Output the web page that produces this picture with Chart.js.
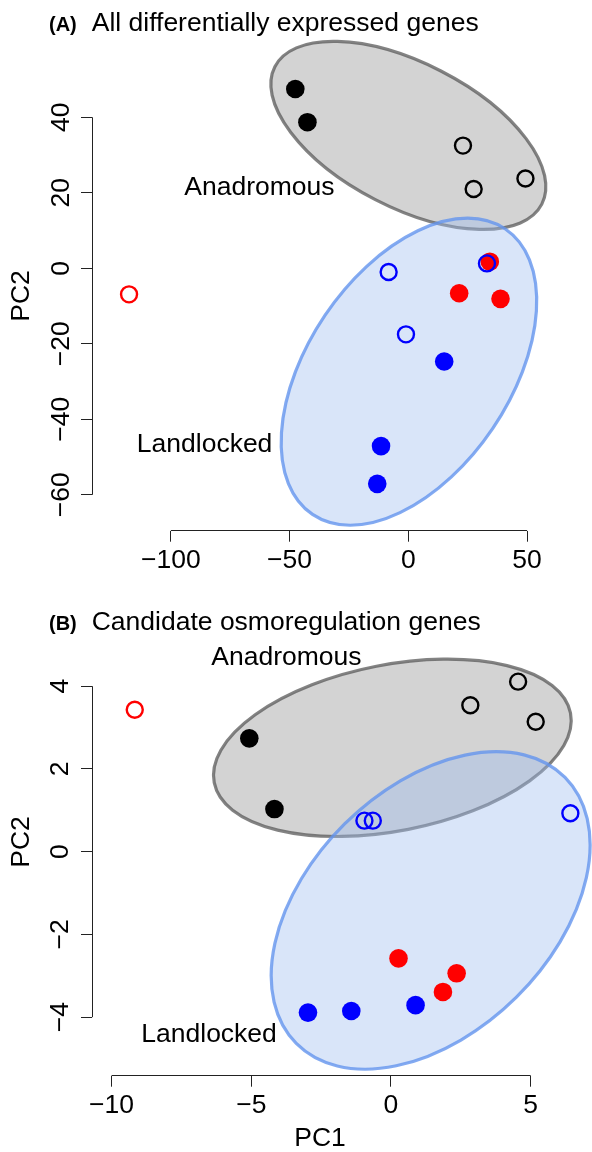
<!DOCTYPE html>
<html>
<head>
<meta charset="utf-8">
<script src="https://cdn.jsdelivr.net/npm/chart.js@4"></script>
<style>
  body { margin: 0; background: #fff; }
  .panel { position: relative; width: 592px; height: 576px; }
</style>
</head>
<body>
<div class="panel"><canvas id="panelA"></canvas></div>
<div class="panel"><canvas id="panelB"></canvas></div>
<script>
// values: [PC1, PC2]
const aAnadSolid = [[-47.6, 47.5], [-42.5, 38.7]];
const aAnadOpen = [[23.0, 32.5], [27.5, 21.0], [49.3, 23.8]];
const aLandOpen = [[-8.3, -1.0], [33.1, 1.3], [-1.0, -17.5]];
const aLandSolid = [[15.1, -24.7], [-11.5, -47.1], [-13.1, -57.1]];
const aRedSolid = [[34.3, 1.75], [21.4, -6.6], [38.8, -8.1]];
const aRedOpen = [[-117.6, -6.9]];

const bAnadSolid = [[-5.07, 2.74], [-4.17, 1.03]];
const bAnadOpen = [[2.84, 3.54], [4.55, 4.11], [5.18, 3.14]];
const bLandOpen = [[-0.95, 0.75], [-0.65, 0.75], [6.42, 0.93]];
const bLandSolid = [[-2.97, -3.89], [-1.42, -3.85], [0.88, -3.71]];
const bRedSolid = [[0.27, -2.58], [2.35, -2.94], [1.86, -3.39]];
const bRedOpen = [[-9.17, 3.43]];

// group ellipses: centre, half-axis vectors (data units)
const aAnadEllipse = { center: [0, 35.2], u: [56.2, -18.2], v: [-13.9, -17.0] };
const aLandEllipse = { center: [0.25, -27.4], u: [40.6, 37.8], v: [35.3, -15.0] };
const bAnadEllipse = { center: [0.05, 2.51], u: [6.375, 0.841], v: [0.571, -1.971] };
const bLandEllipse = { center: [1.42, -1.42], u: [4.81, 3.215], v: [3.071, -2.096] };

// group labels: [text, PC1, PC2]
const aGroupLabels = [['Anadromous', -62.7, 21.4], ['Landlocked', -85.8, -46.7]];
const bGroupLabels = [['Anadromous', -3.74, 4.68], ['Landlocked', -6.51, -4.43]];

const aXTicks = [-100, -50, 0, 50];
const aYTicks = [-60, -40, -20, 0, 20, 40];
const bXTicks = [-10, -5, 0, 5];
const bYTicks = [-4, -2, 0, 2, 4];

const FONT = "'Liberation Sans', Arial, Helvetica, sans-serif";
const FS = 26.5;
const anadStyle = { fill: 'rgba(150,150,150,0.42)', stroke: 'rgba(90,90,90,0.75)' };
const landStyle = { fill: 'rgba(160,190,240,0.4)', stroke: 'rgba(100,149,237,0.8)' };

function minusLabel(v) {
  return v < 0 ? '\u2212' + Math.abs(v) : String(v);
}

function ds(label, pts, color, solid) {
  return {
    label: label,
    data: pts.map(([x, y]) => ({ x, y })),
    pointRadius: solid ? 9.3 : 8,
    pointBorderWidth: solid ? 0 : 2.4,
    pointBackgroundColor: solid ? color : 'rgba(0,0,0,0)',
    pointBorderColor: color,
    clip: false
  };
}

function drawEllipse(ctx, x, y, e, style) {
  const cx = x.getPixelForValue(e.center[0]);
  const cy = y.getPixelForValue(e.center[1]);
  const ux = x.getPixelForValue(e.center[0] + e.u[0]) - cx;
  const uy = y.getPixelForValue(e.center[1] + e.u[1]) - cy;
  const vx = x.getPixelForValue(e.center[0] + e.v[0]) - cx;
  const vy = y.getPixelForValue(e.center[1] + e.v[1]) - cy;
  ctx.save();
  ctx.beginPath();
  ctx.transform(ux, uy, vx, vy, cx, cy);
  ctx.arc(0, 0, 1, 0, Math.PI * 2);
  ctx.restore();
  ctx.save();
  ctx.fillStyle = style.fill;
  ctx.fill();
  ctx.lineWidth = 3.2;
  ctx.strokeStyle = style.stroke;
  ctx.stroke();
  ctx.restore();
}

function panelPlugin(p) {
  let savedArea = null;
  return {
    id: 'panelDecor',
    beforeDatasetsDraw(chart) {
      const { ctx, scales: { x, y } } = chart;
      drawEllipse(ctx, x, y, p.anadEllipse, anadStyle);
      drawEllipse(ctx, x, y, p.landEllipse, landStyle);
      ctx.save();
      ctx.fillStyle = '#000';
      ctx.font = FS + 'px ' + FONT;
      ctx.textAlign = 'center';
      ctx.textBaseline = 'middle';
      p.groupLabels.forEach(([t, gx, gy]) => {
        ctx.fillText(t, x.getPixelForValue(gx), y.getPixelForValue(gy));
      });
      ctx.restore();
      // R draws points past the plot region, so let them show over the whole canvas
      savedArea = chart.chartArea;
      chart.chartArea = Object.assign({}, savedArea, { left: 0, top: 0, right: chart.width, bottom: chart.height });
    },
    afterDatasetsDraw(chart) {
      if (savedArea) chart.chartArea = savedArea;
      savedArea = null;
    },
    afterDraw(chart) {
      const { ctx, chartArea, scales: { x, y } } = chart;
      ctx.save();
      ctx.strokeStyle = '#222';
      ctx.lineWidth = 1;
      ctx.beginPath();
      const by = Math.round(chartArea.bottom - 0.5) + 0.5;
      ctx.moveTo(x.getPixelForValue(p.xTicks[0]), by);
      ctx.lineTo(x.getPixelForValue(p.xTicks[p.xTicks.length - 1]), by);
      const lx = Math.round(chartArea.left - 0.5) + 0.5;
      ctx.moveTo(lx, y.getPixelForValue(p.yTicks[0]));
      ctx.lineTo(lx, y.getPixelForValue(p.yTicks[p.yTicks.length - 1]));
      ctx.stroke();
      // panel title
      ctx.fillStyle = '#000';
      ctx.textBaseline = 'alphabetic';
      ctx.textAlign = 'left';
      ctx.font = 'bold 20px ' + FONT;
      ctx.fillText(p.tag, 49, p.titleY);
      ctx.font = FS + 'px ' + FONT;
      ctx.fillText(p.title, 91.7, p.titleY);
      ctx.restore();
    }
  };
}

function buildPanel(id, p) {
  return new Chart(document.getElementById(id), {
    type: 'scatter',
    data: {
      datasets: [
        ds('Anadromous (solid)', p.anadSolid, '#000000', true),
        ds('Anadromous (open)', p.anadOpen, '#000000', false),
        ds('Landlocked (open)', p.landOpen, '#0000ff', false),
        ds('Landlocked (solid)', p.landSolid, '#0000ff', true),
        ds('Red (solid)', p.redSolid, '#ff0000', true),
        ds('Red (open)', p.redOpen, '#ff0000', false)
      ]
    },
    options: {
      responsive: true,
      maintainAspectRatio: false,
      animation: false,
      events: [],
      layout: { padding: { top: p.padTop, right: 44, left: 0, bottom: 0 } },
      plugins: { legend: { display: false }, tooltip: { enabled: false } },
      scales: {
        x: {
          type: 'linear',
          min: p.xRange[0],
          max: p.xRange[1],
          afterFit: (s) => { s.height = p.xAxisHeight; },
          afterBuildTicks: (s) => { s.ticks = p.xTicks.map(v => ({ value: v })); },
          ticks: {
            autoSkip: false, maxRotation: 0, minRotation: 0, padding: 3.3,
            color: '#000', font: { family: FONT, size: FS },
            callback: minusLabel
          },
          grid: { drawOnChartArea: false, drawTicks: true, tickLength: 11, color: '#222', lineWidth: 1 },
          border: { display: false },
          title: {
            display: !!p.xTitle, text: p.xTitle || '', color: '#000',
            font: { family: FONT, size: FS, lineHeight: 1 },
            padding: { top: 0, bottom: 0 }
          }
        },
        y: {
          type: 'linear',
          min: p.yRange[0],
          max: p.yRange[1],
          afterFit: (s) => { s.width = 92; },
          afterBuildTicks: (s) => { s.ticks = p.yTicks.map(v => ({ value: v })); },
          ticks: {
            autoSkip: false, minRotation: 90, maxRotation: 90, crossAlign: 'center',
            padding: p.yTickPad, color: '#000', font: { family: FONT, size: FS },
            callback: minusLabel
          },
          grid: { drawOnChartArea: false, drawTicks: true, tickLength: 11, color: '#222', lineWidth: 1 },
          border: { display: false },
          title: {
            display: true, text: 'PC2', color: '#000',
            font: { family: FONT, size: FS, lineHeight: 1 },
            padding: { top: 8.6, bottom: 0 }
          }
        }
      }
    },
    plugins: [panelPlugin(p)]
  });
}

buildPanel('panelA', {
  anadSolid: aAnadSolid, anadOpen: aAnadOpen, landOpen: aLandOpen,
  landSolid: aLandSolid, redSolid: aRedSolid, redOpen: aRedOpen,
  anadEllipse: aAnadEllipse, landEllipse: aLandEllipse, groupLabels: aGroupLabels,
  xTicks: aXTicks, yTicks: aYTicks,
  xRange: [-133.2, 58.8], yRange: [-69.51, 54.83],
  padTop: 61.3, xAxisHeight: 45.3, yTickPad: -2.7,
  tag: '(A)', title: 'All differentially expressed genes', titleY: 31
});

buildPanel('panelB', {
  anadSolid: bAnadSolid, anadOpen: bAnadOpen, landOpen: bLandOpen,
  landSolid: bLandSolid, redSolid: bRedSolid, redOpen: bRedOpen,
  anadEllipse: bAnadEllipse, landEllipse: bLandEllipse, groupLabels: bGroupLabels,
  xTicks: bXTicks, yTicks: bYTicks,
  xRange: [-10.70, 5.62], yRange: [-5.415, 5.883],
  padTop: 32.3, xAxisHeight: 76.3, yTickPad: 5.5, xTitle: 'PC1',
  tag: '(B)', title: 'Candidate osmoregulation genes', titleY: 54
});
</script>
</body>
</html>
